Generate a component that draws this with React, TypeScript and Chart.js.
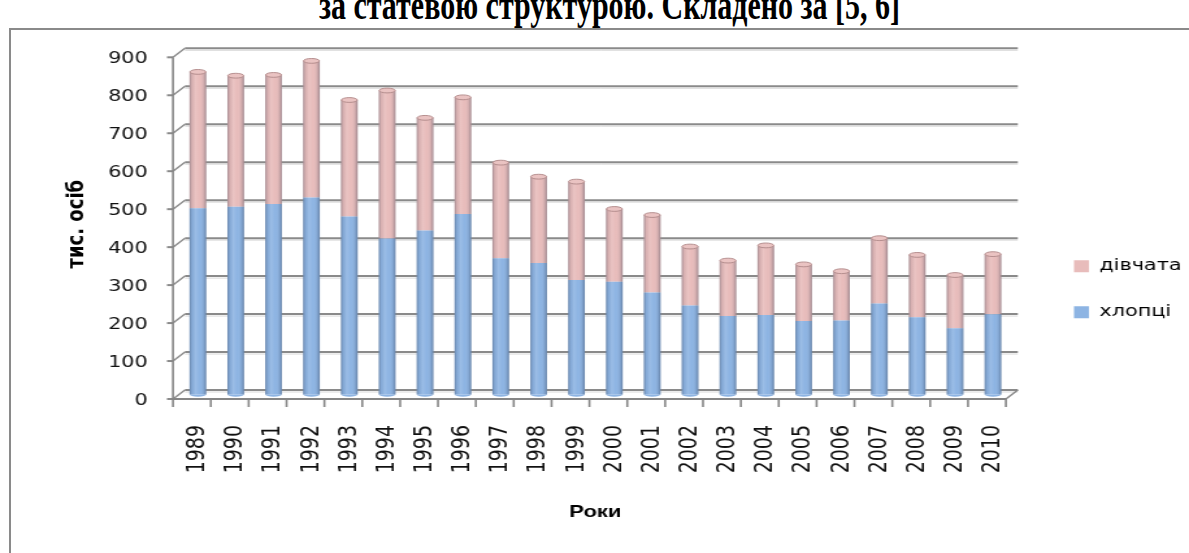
import React, { useEffect, useRef } from 'react';
import { Chart, registerables } from 'chart.js';

Chart.register(...registerables);

const years = ['1989', '1990', '1991', '1992', '1993', '1994', '1995', '1996', '1997', '1998', '1999', '2000', '2001', '2002', '2003', '2004', '2005', '2006', '2007', '2008', '2009', '2010'];
const boys = [492, 496, 503, 520, 470, 412, 433, 477, 360, 348, 303, 298, 270, 236, 208, 211, 195, 196, 241, 205, 176, 213];
const girls = [359, 345, 340, 360, 307, 390, 297, 307, 252, 227, 259, 192, 204, 155, 146, 183, 149, 130, 172, 164, 140, 158];
const yMin = 0;
const yMax = 900;
const yStep = 100;

const boysLabel = 'хлопці';
const girlsLabel = 'дівчата';
const xTitle = 'Роки';
const yTitle = 'тис. осіб';
const titleText = 'за статевою структурою. Складено за [5, 6]';

const STRETCH = 1189 / 915;
const DX = 4.6; // half depth offset (canvas px)
const DY_BACK = 5;
const DY_FRONT = 4;

const threeD = {
  id: 'threeD',
  afterLayout(chart: any) {
    const l = chart.legend;
    if (l) {
      l.left += 17.8;
      l.right += 17.8;
    }
  },
  beforeDatasetsDraw(chart: any) {
    const { ctx, chartArea } = chart;
    const ys = chart.scales.y;
    const xs = chart.scales.x;
    const L = chartArea.left;
    const R = chartArea.right;
    ctx.save();
    ctx.lineCap = 'butt';
    for (let v = yMin; v <= yMax; v += yStep) {
      const py = ys.getPixelForValue(v);
      ctx.strokeStyle = '#d9d9d9';
      ctx.lineWidth = 1;
      ctx.beginPath();
      ctx.moveTo(L + DX, py - DY_BACK + 2);
      ctx.lineTo(R + DX, py - DY_BACK + 2);
      ctx.stroke();
      ctx.strokeStyle = '#8a8a8a';
      ctx.lineWidth = 2;
      ctx.beginPath();
      ctx.moveTo(L + DX, py - DY_BACK);
      ctx.lineTo(R + DX, py - DY_BACK);
      ctx.stroke();
      ctx.lineWidth = 1.4;
      ctx.beginPath();
      ctx.moveTo(L - DX, py + DY_FRONT);
      ctx.lineTo(L + DX, py - DY_BACK);
      ctx.stroke();
      ctx.lineWidth = 2;
      ctx.beginPath();
      ctx.moveTo(L - DX - 4.6, py + DY_FRONT);
      ctx.lineTo(L - DX, py + DY_FRONT);
      ctx.stroke();
    }
    const top = ys.getPixelForValue(yMax);
    const bot = ys.getPixelForValue(yMin);
    ctx.strokeStyle = '#868686';
    ctx.lineWidth = 1.6;
    ctx.beginPath();
    ctx.moveTo(L - DX, top + DY_FRONT);
    ctx.lineTo(L - DX, bot + DY_FRONT + 1);
    ctx.stroke();
    ctx.lineWidth = 2;
    ctx.beginPath();
    ctx.moveTo(L - DX, bot + DY_FRONT);
    ctx.lineTo(R - DX, bot + DY_FRONT);
    ctx.stroke();
    ctx.lineWidth = 1.4;
    ctx.beginPath();
    ctx.moveTo(R - DX, bot + DY_FRONT);
    ctx.lineTo(R + DX, bot - DY_BACK);
    ctx.stroke();
    ctx.lineWidth = 1.6;
    const n = xs.ticks.length;
    const cw = (R - L) / n;
    for (let i = 0; i <= n; i++) {
      const px = L - DX + i * cw;
      ctx.beginPath();
      ctx.moveTo(px, bot + DY_FRONT);
      ctx.lineTo(px, bot + DY_FRONT + 8);
      ctx.stroke();
    }
    ctx.restore();
  },
  afterDatasetsDraw(chart: any) {
    const { ctx } = chart;
    const metaB = chart.getDatasetMeta(0);
    const metaG = chart.getDatasetMeta(1);
    ctx.save();
    const shade = (el: any) => {
      const w = el.width;
      const x0 = el.x - w / 2;
      const g = ctx.createLinearGradient(x0, 0, x0 + w, 0);
      g.addColorStop(0, 'rgba(40,50,70,0.35)');
      g.addColorStop(0.15, 'rgba(40,50,70,0.08)');
      g.addColorStop(0.35, 'rgba(255,255,255,0.12)');
      g.addColorStop(0.6, 'rgba(255,255,255,0.0)');
      g.addColorStop(0.85, 'rgba(40,50,70,0.12)');
      g.addColorStop(1, 'rgba(40,50,70,0.38)');
      ctx.fillStyle = g;
      ctx.fillRect(x0, Math.min(el.y, el.base), w, Math.abs(el.base - el.y));
    };
    metaB.data.forEach((el: any) => {
      ctx.fillStyle = '#8db4e3';
      ctx.beginPath();
      ctx.ellipse(el.x, el.base, el.width / 2, 2.2, 0, 0, Math.PI);
      ctx.fill();
      shade(el);
    });
    metaG.data.forEach((el: any) => {
      shade(el);
      ctx.fillStyle = '#eac3c2';
      ctx.strokeStyle = '#b58e8e';
      ctx.lineWidth = 1;
      ctx.beginPath();
      ctx.ellipse(el.x, el.y, el.width / 2 - 0.3, 2.4, 0, 0, Math.PI * 2);
      ctx.fill();
      ctx.stroke();
    });
    ctx.restore();
  },
};

export default function App() {
  const canvasRef = useRef<HTMLCanvasElement | null>(null);

  useEffect(() => {
    if (!canvasRef.current) return;
    const chart = new Chart(canvasRef.current, {
      type: 'bar',
      data: {
        labels: years,
        datasets: [
          {
            label: boysLabel,
            data: boys,
            backgroundColor: '#8db4e3',
            borderWidth: 0,
            categoryPercentage: 1,
            barPercentage: 0.44,
          },
          {
            label: girlsLabel,
            data: girls,
            backgroundColor: '#e8bcbb',
            borderWidth: 0,
            categoryPercentage: 1,
            barPercentage: 0.44,
          },
        ],
      },
      options: {
        responsive: true,
        maintainAspectRatio: false,
        animation: false,
        layout: { padding: { top: 25.3, bottom: 28, left: 0, right: 13.5 } },
        plugins: {
          legend: {
            position: 'right',
            reverse: true,
            labels: {
              boxWidth: 11.5,
              boxHeight: 12,
              padding: 30,
              color: '#000',
              font: { family: 'DejaVu Sans', size: 16 },
            },
          },
          tooltip: { enabled: false },
        },
        scales: {
          x: {
            stacked: true,
            grid: { display: false, drawTicks: false },
            border: { display: false },
            ticks: {
              minRotation: 90,
              maxRotation: 90,
              autoSkip: false,
              padding: 30,
              color: '#111',
              font: { family: 'DejaVu Sans', size: 19 },
            },
            title: {
              display: true,
              text: xTitle,
              color: '#000',
              font: { family: 'Liberation Sans', size: 17, weight: 'bold' },
              padding: { top: 0, bottom: 2.8 },
            },
            afterFit: (s: any) => {
              s.height = 130;
            },
          },
          y: {
            stacked: true,
            min: yMin,
            max: yMax,
            grid: { display: true, color: 'transparent', drawOnChartArea: false, drawTicks: true, tickLength: 10 },
            border: { display: false },
            ticks: {
              stepSize: yStep,
              padding: 14,
              labelOffset: 6,
              color: '#111',
              font: { family: 'DejaVu Sans', size: 16 },
            },
            title: {
              display: true,
              text: yTitle,
              color: '#000',
              font: { family: 'DejaVu Sans', size: 18, weight: 'bold' },
              padding: { top: 49, bottom: 0 },
            },
            afterFit: (s: any) => {
              s.width = 137.7;
            },
          },
        },
      },
      plugins: [threeD],
    });
    return () => chart.destroy();
  }, []);

  return (
    <div style={{ position: 'fixed', left: 0, top: 0, width: 1189, height: 553, overflow: 'hidden', background: '#fff' }}>
      <div
        style={{
          position: 'absolute',
          left: 15,
          top: -6,
          width: 1189,
          textAlign: 'center',
          font: 'bold 30px "Liberation Serif"',
          lineHeight: '30px',
          whiteSpace: 'nowrap',
          color: '#000',
          transform: 'scaleY(1.4)',
          transformOrigin: '50% 25px',
        }}
      >
        {titleText}
      </div>
      <div
        style={{
          position: 'absolute',
          left: 9,
          top: 28,
          width: 1300,
          height: 700,
          border: '2px solid #8a8a8a',
          boxSizing: 'border-box',
          background: '#fff',
        }}
      />
      <div
        style={{
          position: 'absolute',
          left: 0,
          top: 28,
          width: 915,
          height: 525,
          transform: `scaleX(${STRETCH})`,
          transformOrigin: '0 0',
        }}
      >
        <canvas ref={canvasRef} style={{ display: 'block' }} />
      </div>
    </div>
  );
}
